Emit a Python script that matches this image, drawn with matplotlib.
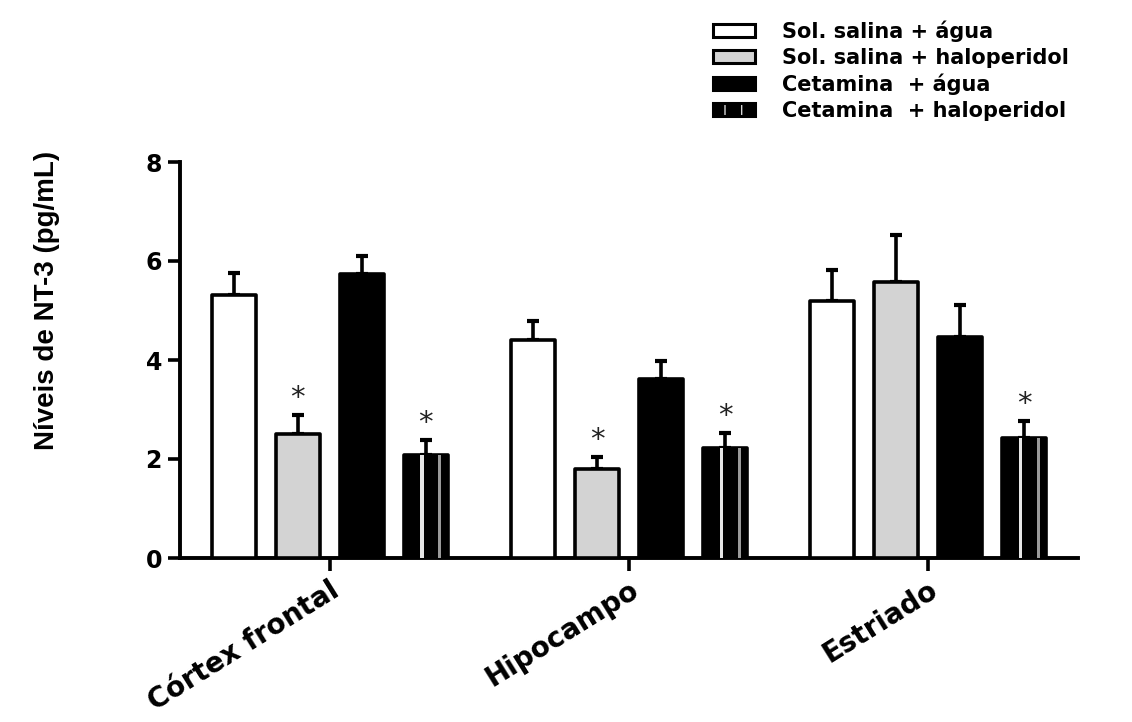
import matplotlib
matplotlib.use("Agg")
import matplotlib.pyplot as plt
import numpy as np
from matplotlib.patches import Patch
from matplotlib.legend_handler import HandlerTuple

plt.rcParams['font.family'] = ['DejaVu Sans']

regions = ["Córtex frontal", "Hipocampo", "Estriado"]
series = ["Sol. salina + água", "Sol. salina + haloperidol",
          "Cetamina  + água", "Cetamina  + haloperidol"]
means = [
    [5.31, 4.40, 5.19],   # Sol. salina + água
    [2.50, 1.80, 5.58],   # Sol. salina + haloperidol
    [5.74, 3.62, 4.47],   # Cetamina + água
    [2.08, 2.22, 2.42],   # Cetamina + haloperidol
]
errors = [
    [0.45, 0.39, 0.63],
    [0.39, 0.24, 0.95],
    [0.36, 0.36, 0.65],
    [0.30, 0.31, 0.35],
]
significant = [
    [False, False, False],
    [True, True, False],
    [False, False, False],
    [True, True, True],
]
yticks = [0, 2, 4, 6, 8]

faces = ["white", "#d3d3d3", "black", "black"]

W, H = 1132, 722
fig = plt.figure(figsize=(W / 100, H / 100), dpi=100)
ax = fig.add_axes([180 / W, 1 - 558 / H, (1078 - 180) / W, (558 - 162) / H])

x = np.arange(len(regions))
step = 0.214
bw = 0.147
offsets = (np.arange(4) - 1.5) * step

for i in range(4):
    xs = x + offsets[i]
    ax.bar(xs, means[i], width=bw, color=faces[i], edgecolor="black",
           linewidth=2.6, zorder=3, joinstyle="round")
    ax.errorbar(xs, means[i], yerr=[np.zeros(3), errors[i]], fmt="none",
                ecolor="black", elinewidth=2.6, capsize=4, capthick=3, zorder=2)
    if i == 3:
        sw = 0.011
        ax.bar(xs - 0.013, means[i], width=sw, color="#e6e6e6",
               linewidth=0, zorder=4)
        ax.bar(xs + 0.047, means[i], width=sw, color="#9a9a9a",
               linewidth=0, zorder=4)
    for j in range(3):
        if significant[i][j]:
            ax.text(xs[j], means[i][j] + errors[i][j] + 0.06, "*",
                    ha="center", va="bottom", fontsize=21, color="#222222",
                    family="DejaVu Sans")

ax.set_xlim(-0.5, 2.5)
ax.set_ylim(0, 8)
ax.set_yticks(yticks)
ax.set_yticklabels([str(t) for t in yticks], fontsize=17, fontweight="bold")
ax.set_xticks(x)
ax.set_xticklabels(regions, rotation=32, ha="right", va="top",
                   rotation_mode="anchor", fontsize=20, fontweight="bold")
ax.tick_params(axis="both", direction="out", length=9, width=2.6)
ax.tick_params(axis="x", pad=4)
ax.tick_params(axis="y", pad=4)
for s in ["top", "right"]:
    ax.spines[s].set_visible(False)
for s in ["left", "bottom"]:
    ax.spines[s].set_linewidth(2.8)

fig.text(47 / W, 1 - 300 / H, "Níveis de NT-3 (pg/mL)", rotation=90,
         ha="center", va="center", fontsize=20, fontweight="bold",
         family=["Liberation Sans", "DejaVu Sans"])

handles = [Patch(facecolor=faces[i], edgecolor="black", linewidth=2.2)
           for i in range(3)]
handles.append((Patch(facecolor="black", edgecolor="#d8d8d8", hatch="|",
                      linewidth=0),
                Patch(facecolor="none", edgecolor="black", linewidth=2.2)))
leg = fig.legend(handles, series, loc="upper left",
                 bbox_to_anchor=(705 / W, 1 - 12 / H), frameon=False,
                 prop={"size": 15, "weight": "bold"},
                 handlelength=2.0, handleheight=0.6, handletextpad=1.3,
                 labelspacing=0.28, borderaxespad=0,
                 handler_map={tuple: HandlerTuple(ndivide=1, pad=0)})

fig.savefig("out.png", dpi=100, facecolor="white")
